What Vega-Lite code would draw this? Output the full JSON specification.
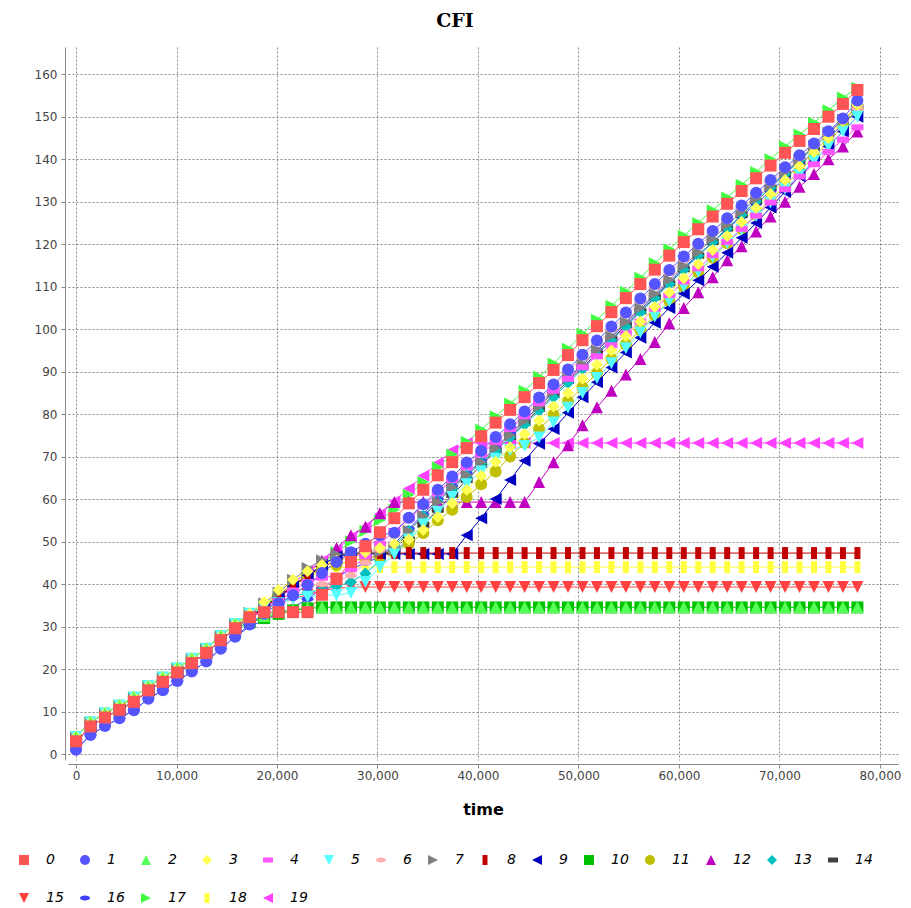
{
"$schema":"https://vega.github.io/schema/vega-lite/v6.json",
"width":830,"height":713,
"autosize":{"type":"none"},
"padding":{"left":68,"top":47,"right":13,"bottom":148},
"background":"white",
"title":{"text":"CFI","font":"DejaVu Serif","fontSize":19,"fontWeight":"bold","color":"#000","anchor":"middle","frame":"group","dx":-28,"offset":16},
"config":{"view":{"stroke":null},"legend":{"orient":"none","legendX":-51,"legendY":806,"direction":"horizontal","columns":15,"padding":0,"labelFont":"DejaVu Sans","labelFontStyle":"italic","labelFontSize":14,"labelColor":"#000","symbolSize":100,"symbolStrokeWidth":0,"labelOffset":15,"columnPadding":14,"rowPadding":24}},
"datasets":{"cfi":[
{"s":"19","t":0,"v":3},{"s":"19","t":1440,"v":6.5},{"s":"19","t":2880,"v":8.6},{"s":"19","t":4320,"v":10.4},{"s":"19","t":5760,"v":12.3},{"s":"19","t":7200,"v":15},{"s":"19","t":8640,"v":17},{"s":"19","t":10080,"v":19.2},{"s":"19","t":11520,"v":21.4},{"s":"19","t":12960,"v":23.8},{"s":"19","t":14400,"v":26.8},{"s":"19","t":15840,"v":29.6},{"s":"19","t":17280,"v":32.5},{"s":"19","t":18720,"v":34.5},{"s":"19","t":20160,"v":37},{"s":"19","t":21600,"v":40},{"s":"19","t":23040,"v":43},{"s":"19","t":24480,"v":45.5},{"s":"19","t":25920,"v":48},{"s":"19","t":27360,"v":51},{"s":"19","t":28800,"v":53.5},{"s":"19","t":30240,"v":56.5},{"s":"19","t":31680,"v":59.5},{"s":"19","t":33120,"v":62.5},{"s":"19","t":34560,"v":65.5},{"s":"19","t":36000,"v":68.5},{"s":"19","t":37440,"v":71.5},{"s":"19","t":38880,"v":73.2},{"s":"19","t":40320,"v":73.2},{"s":"19","t":41760,"v":73.2},{"s":"19","t":43200,"v":73.2},{"s":"19","t":44640,"v":73.2},{"s":"19","t":46080,"v":73.2},{"s":"19","t":47520,"v":73.2},{"s":"19","t":48960,"v":73.2},{"s":"19","t":50400,"v":73.2},{"s":"19","t":51840,"v":73.2},{"s":"19","t":53280,"v":73.2},{"s":"19","t":54720,"v":73.2},{"s":"19","t":56160,"v":73.2},{"s":"19","t":57600,"v":73.2},{"s":"19","t":59040,"v":73.2},{"s":"19","t":60480,"v":73.2},{"s":"19","t":61920,"v":73.2},{"s":"19","t":63360,"v":73.2},{"s":"19","t":64800,"v":73.2},{"s":"19","t":66240,"v":73.2},{"s":"19","t":67680,"v":73.2},{"s":"19","t":69120,"v":73.2},{"s":"19","t":70560,"v":73.2},{"s":"19","t":72000,"v":73.2},{"s":"19","t":73440,"v":73.2},{"s":"19","t":74880,"v":73.2},{"s":"19","t":76320,"v":73.2},{"s":"19","t":77760,"v":73.2},
{"s":"18","t":0,"v":4},{"s":"18","t":1440,"v":7.5},{"s":"18","t":2880,"v":9.6},{"s":"18","t":4320,"v":11.4},{"s":"18","t":5760,"v":13.3},{"s":"18","t":7200,"v":16},{"s":"18","t":8640,"v":18},{"s":"18","t":10080,"v":20.2},{"s":"18","t":11520,"v":22.4},{"s":"18","t":12960,"v":24.8},{"s":"18","t":14400,"v":27.8},{"s":"18","t":15840,"v":30.6},{"s":"18","t":17280,"v":33},{"s":"18","t":18720,"v":34.5},{"s":"18","t":20160,"v":37},{"s":"18","t":21600,"v":39.5},{"s":"18","t":23040,"v":41.5},{"s":"18","t":24480,"v":43},{"s":"18","t":25920,"v":43.8},{"s":"18","t":27360,"v":44},{"s":"18","t":28800,"v":44},{"s":"18","t":30240,"v":44},{"s":"18","t":31680,"v":44},{"s":"18","t":33120,"v":44},{"s":"18","t":34560,"v":44},{"s":"18","t":36000,"v":44},{"s":"18","t":37440,"v":44},{"s":"18","t":38880,"v":44},{"s":"18","t":40320,"v":44},{"s":"18","t":41760,"v":44},{"s":"18","t":43200,"v":44},{"s":"18","t":44640,"v":44},{"s":"18","t":46080,"v":44},{"s":"18","t":47520,"v":44},{"s":"18","t":48960,"v":44},{"s":"18","t":50400,"v":44},{"s":"18","t":51840,"v":44},{"s":"18","t":53280,"v":44},{"s":"18","t":54720,"v":44},{"s":"18","t":56160,"v":44},{"s":"18","t":57600,"v":44},{"s":"18","t":59040,"v":44},{"s":"18","t":60480,"v":44},{"s":"18","t":61920,"v":44},{"s":"18","t":63360,"v":44},{"s":"18","t":64800,"v":44},{"s":"18","t":66240,"v":44},{"s":"18","t":67680,"v":44},{"s":"18","t":69120,"v":44},{"s":"18","t":70560,"v":44},{"s":"18","t":72000,"v":44},{"s":"18","t":73440,"v":44},{"s":"18","t":74880,"v":44},{"s":"18","t":76320,"v":44},{"s":"18","t":77760,"v":44},
{"s":"17","t":0,"v":4},{"s":"17","t":1440,"v":7.5},{"s":"17","t":2880,"v":9.6},{"s":"17","t":4320,"v":11.4},{"s":"17","t":5760,"v":13.3},{"s":"17","t":7200,"v":16},{"s":"17","t":8640,"v":18},{"s":"17","t":10080,"v":20.2},{"s":"17","t":11520,"v":22.4},{"s":"17","t":12960,"v":24.8},{"s":"17","t":14400,"v":27.8},{"s":"17","t":15840,"v":30.6},{"s":"17","t":17280,"v":33.2},{"s":"17","t":18720,"v":35},{"s":"17","t":20160,"v":37},{"s":"17","t":21600,"v":39.5},{"s":"17","t":23040,"v":42},{"s":"17","t":24480,"v":44.5},{"s":"17","t":25920,"v":47.5},{"s":"17","t":27360,"v":50},{"s":"17","t":28800,"v":52.5},{"s":"17","t":30240,"v":55},{"s":"17","t":31680,"v":57.5},{"s":"17","t":33120,"v":61},{"s":"17","t":34560,"v":64},{"s":"17","t":36000,"v":67.5},{"s":"17","t":37440,"v":70.5},{"s":"17","t":38880,"v":73.5},{"s":"17","t":40320,"v":76.3},{"s":"17","t":41760,"v":79.5},{"s":"17","t":43200,"v":82.5},{"s":"17","t":44640,"v":85.5},{"s":"17","t":46080,"v":88.8},{"s":"17","t":47520,"v":91.9},{"s":"17","t":48960,"v":95.4},{"s":"17","t":50400,"v":98.9},{"s":"17","t":51840,"v":102.2},{"s":"17","t":53280,"v":105.5},{"s":"17","t":54720,"v":108.8},{"s":"17","t":56160,"v":112.1},{"s":"17","t":57600,"v":115.5},{"s":"17","t":59040,"v":118.8},{"s":"17","t":60480,"v":122},{"s":"17","t":61920,"v":125},{"s":"17","t":63360,"v":128},{"s":"17","t":64800,"v":131},{"s":"17","t":66240,"v":134},{"s":"17","t":67680,"v":137},{"s":"17","t":69120,"v":140},{"s":"17","t":70560,"v":143},{"s":"17","t":72000,"v":145.8},{"s":"17","t":73440,"v":148.6},{"s":"17","t":74880,"v":151.5},{"s":"17","t":76320,"v":154.5},{"s":"17","t":77760,"v":156.8},
{"s":"16","t":0,"v":1},{"s":"16","t":1440,"v":4.5},{"s":"16","t":2880,"v":6.6},{"s":"16","t":4320,"v":8.4},{"s":"16","t":5760,"v":10.3},{"s":"16","t":7200,"v":13},{"s":"16","t":8640,"v":15},{"s":"16","t":10080,"v":17.2},{"s":"16","t":11520,"v":19.4},{"s":"16","t":12960,"v":21.8},{"s":"16","t":14400,"v":24.8},{"s":"16","t":15840,"v":27.6},{"s":"16","t":17280,"v":30},{"s":"16","t":18720,"v":31.5},{"s":"16","t":20160,"v":33},{"s":"16","t":21600,"v":34.5},{"s":"16","t":23040,"v":36.5},{"s":"16","t":24480,"v":39},{"s":"16","t":25920,"v":41.5},{"s":"16","t":27360,"v":43.5},{"s":"16","t":28800,"v":45},{"s":"16","t":30240,"v":46.4},{"s":"16","t":31680,"v":49.5},{"s":"16","t":33120,"v":53},{"s":"16","t":34560,"v":56.5},{"s":"16","t":36000,"v":60},{"s":"16","t":37440,"v":63},{"s":"16","t":38880,"v":66},{"s":"16","t":40320,"v":69},{"s":"16","t":41760,"v":72},{"s":"16","t":43200,"v":75.5},{"s":"16","t":44640,"v":78.5},{"s":"16","t":46080,"v":82},{"s":"16","t":47520,"v":85},{"s":"16","t":48960,"v":88.5},{"s":"16","t":50400,"v":91.5},{"s":"16","t":51840,"v":95},{"s":"16","t":53280,"v":98},{"s":"16","t":54720,"v":101.5},{"s":"16","t":56160,"v":104.5},{"s":"16","t":57600,"v":108},{"s":"16","t":59040,"v":111},{"s":"16","t":60480,"v":114.5},{"s":"16","t":61920,"v":117.5},{"s":"16","t":63360,"v":120.5},{"s":"16","t":64800,"v":123.5},{"s":"16","t":66240,"v":126.5},{"s":"16","t":67680,"v":129.5},{"s":"16","t":69120,"v":132.5},{"s":"16","t":70560,"v":135.5},{"s":"16","t":72000,"v":138.7},{"s":"16","t":73440,"v":141.8},{"s":"16","t":74880,"v":145},{"s":"16","t":76320,"v":148.2},{"s":"16","t":77760,"v":151.3},
{"s":"15","t":0,"v":3},{"s":"15","t":1440,"v":6.5},{"s":"15","t":2880,"v":8.6},{"s":"15","t":4320,"v":10.4},{"s":"15","t":5760,"v":12.3},{"s":"15","t":7200,"v":15},{"s":"15","t":8640,"v":17},{"s":"15","t":10080,"v":19.2},{"s":"15","t":11520,"v":21.4},{"s":"15","t":12960,"v":23.8},{"s":"15","t":14400,"v":26.8},{"s":"15","t":15840,"v":29.6},{"s":"15","t":17280,"v":32},{"s":"15","t":18720,"v":34},{"s":"15","t":20160,"v":35.5},{"s":"15","t":21600,"v":36.5},{"s":"15","t":23040,"v":37.5},{"s":"15","t":24480,"v":38.5},{"s":"15","t":25920,"v":39},{"s":"15","t":27360,"v":39.3},{"s":"15","t":28800,"v":39.3},{"s":"15","t":30240,"v":39.3},{"s":"15","t":31680,"v":39.3},{"s":"15","t":33120,"v":39.3},{"s":"15","t":34560,"v":39.3},{"s":"15","t":36000,"v":39.3},{"s":"15","t":37440,"v":39.3},{"s":"15","t":38880,"v":39.3},{"s":"15","t":40320,"v":39.3},{"s":"15","t":41760,"v":39.3},{"s":"15","t":43200,"v":39.3},{"s":"15","t":44640,"v":39.3},{"s":"15","t":46080,"v":39.3},{"s":"15","t":47520,"v":39.3},{"s":"15","t":48960,"v":39.3},{"s":"15","t":50400,"v":39.3},{"s":"15","t":51840,"v":39.3},{"s":"15","t":53280,"v":39.3},{"s":"15","t":54720,"v":39.3},{"s":"15","t":56160,"v":39.3},{"s":"15","t":57600,"v":39.3},{"s":"15","t":59040,"v":39.3},{"s":"15","t":60480,"v":39.3},{"s":"15","t":61920,"v":39.3},{"s":"15","t":63360,"v":39.3},{"s":"15","t":64800,"v":39.3},{"s":"15","t":66240,"v":39.3},{"s":"15","t":67680,"v":39.3},{"s":"15","t":69120,"v":39.3},{"s":"15","t":70560,"v":39.3},{"s":"15","t":72000,"v":39.3},{"s":"15","t":73440,"v":39.3},{"s":"15","t":74880,"v":39.3},{"s":"15","t":76320,"v":39.3},{"s":"15","t":77760,"v":39.3},
{"s":"14","t":0,"v":3},{"s":"14","t":1440,"v":6.5},{"s":"14","t":2880,"v":8.6},{"s":"14","t":4320,"v":10.4},{"s":"14","t":5760,"v":12.3},{"s":"14","t":7200,"v":15},{"s":"14","t":8640,"v":17},{"s":"14","t":10080,"v":19.2},{"s":"14","t":11520,"v":21.4},{"s":"14","t":12960,"v":23.8},{"s":"14","t":14400,"v":26.8},{"s":"14","t":15840,"v":29.6},{"s":"14","t":17280,"v":32.2},{"s":"14","t":18720,"v":34.5},{"s":"14","t":20160,"v":37},{"s":"14","t":21600,"v":39.5},{"s":"14","t":23040,"v":42},{"s":"14","t":24480,"v":44.5},{"s":"14","t":25920,"v":46.5},{"s":"14","t":27360,"v":47.3},{"s":"14","t":28800,"v":47.3},{"s":"14","t":30240,"v":47.3},{"s":"14","t":31680,"v":47.5},{"s":"14","t":33120,"v":50.5},{"s":"14","t":34560,"v":54},{"s":"14","t":36000,"v":57.5},{"s":"14","t":37440,"v":61},{"s":"14","t":38880,"v":64.5},{"s":"14","t":40320,"v":68},{"s":"14","t":41760,"v":71.3},{"s":"14","t":43200,"v":74.6},{"s":"14","t":44640,"v":77.9},{"s":"14","t":46080,"v":81.2},{"s":"14","t":47520,"v":84.5},{"s":"14","t":48960,"v":87.8},{"s":"14","t":50400,"v":91},{"s":"14","t":51840,"v":94.3},{"s":"14","t":53280,"v":97.6},{"s":"14","t":54720,"v":100.9},{"s":"14","t":56160,"v":104.2},{"s":"14","t":57600,"v":107.5},{"s":"14","t":59040,"v":110.8},{"s":"14","t":60480,"v":114.1},{"s":"14","t":61920,"v":117.3},{"s":"14","t":63360,"v":120.5},{"s":"14","t":64800,"v":123.7},{"s":"14","t":66240,"v":126.9},{"s":"14","t":67680,"v":130.1},{"s":"14","t":69120,"v":133.3},{"s":"14","t":70560,"v":136.5},{"s":"14","t":72000,"v":139.7},{"s":"14","t":73440,"v":142.9},{"s":"14","t":74880,"v":146.1},{"s":"14","t":76320,"v":149.2},{"s":"14","t":77760,"v":152.3},
{"s":"13","t":0,"v":4},{"s":"13","t":1440,"v":7.5},{"s":"13","t":2880,"v":9.6},{"s":"13","t":4320,"v":11.4},{"s":"13","t":5760,"v":13.3},{"s":"13","t":7200,"v":16},{"s":"13","t":8640,"v":18},{"s":"13","t":10080,"v":20.2},{"s":"13","t":11520,"v":22.4},{"s":"13","t":12960,"v":24.8},{"s":"13","t":14400,"v":27.8},{"s":"13","t":15840,"v":30.6},{"s":"13","t":17280,"v":32.8},{"s":"13","t":18720,"v":34},{"s":"13","t":20160,"v":35.5},{"s":"13","t":21600,"v":37},{"s":"13","t":23040,"v":38},{"s":"13","t":24480,"v":38.7},{"s":"13","t":25920,"v":39.5},{"s":"13","t":27360,"v":40.5},{"s":"13","t":28800,"v":42.5},{"s":"13","t":30240,"v":45.5},{"s":"13","t":31680,"v":49},{"s":"13","t":33120,"v":52.5},{"s":"13","t":34560,"v":56},{"s":"13","t":36000,"v":59.5},{"s":"13","t":37440,"v":62.5},{"s":"13","t":38880,"v":65.5},{"s":"13","t":40320,"v":68.5},{"s":"13","t":41760,"v":71.5},{"s":"13","t":43200,"v":74.5},{"s":"13","t":44640,"v":77.5},{"s":"13","t":46080,"v":80.8},{"s":"13","t":47520,"v":84},{"s":"13","t":48960,"v":87.3},{"s":"13","t":50400,"v":90.6},{"s":"13","t":51840,"v":94},{"s":"13","t":53280,"v":97.3},{"s":"13","t":54720,"v":100.6},{"s":"13","t":56160,"v":104},{"s":"13","t":57600,"v":107.3},{"s":"13","t":59040,"v":110.6},{"s":"13","t":60480,"v":114},{"s":"13","t":61920,"v":117.3},{"s":"13","t":63360,"v":120.5},{"s":"13","t":64800,"v":123.7},{"s":"13","t":66240,"v":126.9},{"s":"13","t":67680,"v":130.1},{"s":"13","t":69120,"v":133.3},{"s":"13","t":70560,"v":136.5},{"s":"13","t":72000,"v":139.7},{"s":"13","t":73440,"v":142.9},{"s":"13","t":74880,"v":146},{"s":"13","t":76320,"v":149},{"s":"13","t":77760,"v":151},
{"s":"12","t":0,"v":3},{"s":"12","t":1440,"v":6.5},{"s":"12","t":2880,"v":8.6},{"s":"12","t":4320,"v":10.4},{"s":"12","t":5760,"v":12.3},{"s":"12","t":7200,"v":15},{"s":"12","t":8640,"v":17},{"s":"12","t":10080,"v":19.2},{"s":"12","t":11520,"v":21.4},{"s":"12","t":12960,"v":23.8},{"s":"12","t":14400,"v":26.8},{"s":"12","t":15840,"v":29.6},{"s":"12","t":17280,"v":32.5},{"s":"12","t":18720,"v":34},{"s":"12","t":20160,"v":36.5},{"s":"12","t":21600,"v":39.5},{"s":"12","t":23040,"v":42.5},{"s":"12","t":24480,"v":45.5},{"s":"12","t":25920,"v":48.5},{"s":"12","t":27360,"v":51.5},{"s":"12","t":28800,"v":53.5},{"s":"12","t":30240,"v":56.7},{"s":"12","t":31680,"v":59.3},{"s":"12","t":33120,"v":59.3},{"s":"12","t":34560,"v":59.3},{"s":"12","t":36000,"v":59.3},{"s":"12","t":37440,"v":59.3},{"s":"12","t":38880,"v":59.3},{"s":"12","t":40320,"v":59.3},{"s":"12","t":41760,"v":59.3},{"s":"12","t":43200,"v":59.3},{"s":"12","t":44640,"v":59.3},{"s":"12","t":46080,"v":64},{"s":"12","t":47520,"v":68.7},{"s":"12","t":48960,"v":72.7},{"s":"12","t":50400,"v":77.4},{"s":"12","t":51840,"v":81.6},{"s":"12","t":53280,"v":85.5},{"s":"12","t":54720,"v":89.3},{"s":"12","t":56160,"v":93},{"s":"12","t":57600,"v":97},{"s":"12","t":59040,"v":101.4},{"s":"12","t":60480,"v":105},{"s":"12","t":61920,"v":108.7},{"s":"12","t":63360,"v":112.2},{"s":"12","t":64800,"v":116.2},{"s":"12","t":66240,"v":119.5},{"s":"12","t":67680,"v":123},{"s":"12","t":69120,"v":126.5},{"s":"12","t":70560,"v":130},{"s":"12","t":72000,"v":133.5},{"s":"12","t":73440,"v":136.5},{"s":"12","t":74880,"v":140},{"s":"12","t":76320,"v":143},{"s":"12","t":77760,"v":146.5},
{"s":"11","t":0,"v":4},{"s":"11","t":1440,"v":7.5},{"s":"11","t":2880,"v":9.6},{"s":"11","t":4320,"v":11.4},{"s":"11","t":5760,"v":13.3},{"s":"11","t":7200,"v":16},{"s":"11","t":8640,"v":18},{"s":"11","t":10080,"v":20.2},{"s":"11","t":11520,"v":22.4},{"s":"11","t":12960,"v":24.8},{"s":"11","t":14400,"v":27.8},{"s":"11","t":15840,"v":30.6},{"s":"11","t":17280,"v":32.5},{"s":"11","t":18720,"v":35},{"s":"11","t":20160,"v":37.5},{"s":"11","t":21600,"v":40},{"s":"11","t":23040,"v":42},{"s":"11","t":24480,"v":43.5},{"s":"11","t":25920,"v":44.5},{"s":"11","t":27360,"v":45.5},{"s":"11","t":28800,"v":46},{"s":"11","t":30240,"v":46.5},{"s":"11","t":31680,"v":47.5},{"s":"11","t":33120,"v":49.5},{"s":"11","t":34560,"v":52},{"s":"11","t":36000,"v":55},{"s":"11","t":37440,"v":57.5},{"s":"11","t":38880,"v":60.5},{"s":"11","t":40320,"v":63.5},{"s":"11","t":41760,"v":66.5},{"s":"11","t":43200,"v":70},{"s":"11","t":44640,"v":73.2},{"s":"11","t":46080,"v":76.5},{"s":"11","t":47520,"v":79.8},{"s":"11","t":48960,"v":83},{"s":"11","t":50400,"v":86.3},{"s":"11","t":51840,"v":89.6},{"s":"11","t":53280,"v":93},{"s":"11","t":54720,"v":96.4},{"s":"11","t":56160,"v":99.8},{"s":"11","t":57600,"v":103.2},{"s":"11","t":59040,"v":106.6},{"s":"11","t":60480,"v":110},{"s":"11","t":61920,"v":113.4},{"s":"11","t":63360,"v":116.8},{"s":"11","t":64800,"v":120.2},{"s":"11","t":66240,"v":123.6},{"s":"11","t":67680,"v":127},{"s":"11","t":69120,"v":130.4},{"s":"11","t":70560,"v":133.8},{"s":"11","t":72000,"v":137.2},{"s":"11","t":73440,"v":140.6},{"s":"11","t":74880,"v":144},{"s":"11","t":76320,"v":147.8},{"s":"11","t":77760,"v":152},
{"s":"10","t":0,"v":3},{"s":"10","t":1440,"v":6.5},{"s":"10","t":2880,"v":8.6},{"s":"10","t":4320,"v":10.4},{"s":"10","t":5760,"v":12.3},{"s":"10","t":7200,"v":15},{"s":"10","t":8640,"v":17},{"s":"10","t":10080,"v":19.2},{"s":"10","t":11520,"v":21.4},{"s":"10","t":12960,"v":23.8},{"s":"10","t":14400,"v":26.8},{"s":"10","t":15840,"v":29.6},{"s":"10","t":17280,"v":31},{"s":"10","t":18720,"v":32},{"s":"10","t":20160,"v":33},{"s":"10","t":21600,"v":33.8},{"s":"10","t":23040,"v":34.3},{"s":"10","t":24480,"v":34.5},{"s":"10","t":25920,"v":34.5},{"s":"10","t":27360,"v":34.5},{"s":"10","t":28800,"v":34.5},{"s":"10","t":30240,"v":34.5},{"s":"10","t":31680,"v":34.5},{"s":"10","t":33120,"v":34.5},{"s":"10","t":34560,"v":34.5},{"s":"10","t":36000,"v":34.5},{"s":"10","t":37440,"v":34.5},{"s":"10","t":38880,"v":34.5},{"s":"10","t":40320,"v":34.5},{"s":"10","t":41760,"v":34.5},{"s":"10","t":43200,"v":34.5},{"s":"10","t":44640,"v":34.5},{"s":"10","t":46080,"v":34.5},{"s":"10","t":47520,"v":34.5},{"s":"10","t":48960,"v":34.5},{"s":"10","t":50400,"v":34.5},{"s":"10","t":51840,"v":34.5},{"s":"10","t":53280,"v":34.5},{"s":"10","t":54720,"v":34.5},{"s":"10","t":56160,"v":34.5},{"s":"10","t":57600,"v":34.5},{"s":"10","t":59040,"v":34.5},{"s":"10","t":60480,"v":34.5},{"s":"10","t":61920,"v":34.5},{"s":"10","t":63360,"v":34.5},{"s":"10","t":64800,"v":34.5},{"s":"10","t":66240,"v":34.5},{"s":"10","t":67680,"v":34.5},{"s":"10","t":69120,"v":34.5},{"s":"10","t":70560,"v":34.5},{"s":"10","t":72000,"v":34.5},{"s":"10","t":73440,"v":34.5},{"s":"10","t":74880,"v":34.5},{"s":"10","t":76320,"v":34.5},{"s":"10","t":77760,"v":34.5},
{"s":"9","t":0,"v":3},{"s":"9","t":1440,"v":6.5},{"s":"9","t":2880,"v":8.6},{"s":"9","t":4320,"v":10.4},{"s":"9","t":5760,"v":12.3},{"s":"9","t":7200,"v":15},{"s":"9","t":8640,"v":17},{"s":"9","t":10080,"v":19.2},{"s":"9","t":11520,"v":21.4},{"s":"9","t":12960,"v":23.8},{"s":"9","t":14400,"v":26.8},{"s":"9","t":15840,"v":29.6},{"s":"9","t":17280,"v":32.2},{"s":"9","t":18720,"v":34.5},{"s":"9","t":20160,"v":37},{"s":"9","t":21600,"v":39.5},{"s":"9","t":23040,"v":42},{"s":"9","t":24480,"v":44.5},{"s":"9","t":25920,"v":46.5},{"s":"9","t":27360,"v":47.1},{"s":"9","t":28800,"v":47.1},{"s":"9","t":30240,"v":47.1},{"s":"9","t":31680,"v":47.1},{"s":"9","t":33120,"v":47.1},{"s":"9","t":34560,"v":47.1},{"s":"9","t":36000,"v":47.1},{"s":"9","t":37440,"v":47.1},{"s":"9","t":38880,"v":51.5},{"s":"9","t":40320,"v":55.5},{"s":"9","t":41760,"v":60},{"s":"9","t":43200,"v":64.5},{"s":"9","t":44640,"v":69},{"s":"9","t":46080,"v":73},{"s":"9","t":47520,"v":76.5},{"s":"9","t":48960,"v":80.3},{"s":"9","t":50400,"v":84},{"s":"9","t":51840,"v":87.5},{"s":"9","t":53280,"v":91},{"s":"9","t":54720,"v":94.5},{"s":"9","t":56160,"v":98},{"s":"9","t":57600,"v":101.5},{"s":"9","t":59040,"v":105},{"s":"9","t":60480,"v":108.3},{"s":"9","t":61920,"v":111.5},{"s":"9","t":63360,"v":114.7},{"s":"9","t":64800,"v":118},{"s":"9","t":66240,"v":121.5},{"s":"9","t":67680,"v":125},{"s":"9","t":69120,"v":128.6},{"s":"9","t":70560,"v":132.3},{"s":"9","t":72000,"v":136},{"s":"9","t":73440,"v":139.5},{"s":"9","t":74880,"v":143},{"s":"9","t":76320,"v":146.5},{"s":"9","t":77760,"v":150},
{"s":"8","t":0,"v":3},{"s":"8","t":1440,"v":6.5},{"s":"8","t":2880,"v":8.6},{"s":"8","t":4320,"v":10.4},{"s":"8","t":5760,"v":12.3},{"s":"8","t":7200,"v":15},{"s":"8","t":8640,"v":17},{"s":"8","t":10080,"v":19.2},{"s":"8","t":11520,"v":21.4},{"s":"8","t":12960,"v":23.8},{"s":"8","t":14400,"v":26.8},{"s":"8","t":15840,"v":29.6},{"s":"8","t":17280,"v":32.2},{"s":"8","t":18720,"v":34.5},{"s":"8","t":20160,"v":37},{"s":"8","t":21600,"v":39.5},{"s":"8","t":23040,"v":42},{"s":"8","t":24480,"v":44},{"s":"8","t":25920,"v":45.5},{"s":"8","t":27360,"v":46.5},{"s":"8","t":28800,"v":47.3},{"s":"8","t":30240,"v":47.3},{"s":"8","t":31680,"v":47.3},{"s":"8","t":33120,"v":47.3},{"s":"8","t":34560,"v":47.3},{"s":"8","t":36000,"v":47.3},{"s":"8","t":37440,"v":47.3},{"s":"8","t":38880,"v":47.3},{"s":"8","t":40320,"v":47.3},{"s":"8","t":41760,"v":47.3},{"s":"8","t":43200,"v":47.3},{"s":"8","t":44640,"v":47.3},{"s":"8","t":46080,"v":47.3},{"s":"8","t":47520,"v":47.3},{"s":"8","t":48960,"v":47.3},{"s":"8","t":50400,"v":47.3},{"s":"8","t":51840,"v":47.3},{"s":"8","t":53280,"v":47.3},{"s":"8","t":54720,"v":47.3},{"s":"8","t":56160,"v":47.3},{"s":"8","t":57600,"v":47.3},{"s":"8","t":59040,"v":47.3},{"s":"8","t":60480,"v":47.3},{"s":"8","t":61920,"v":47.3},{"s":"8","t":63360,"v":47.3},{"s":"8","t":64800,"v":47.3},{"s":"8","t":66240,"v":47.3},{"s":"8","t":67680,"v":47.3},{"s":"8","t":69120,"v":47.3},{"s":"8","t":70560,"v":47.3},{"s":"8","t":72000,"v":47.3},{"s":"8","t":73440,"v":47.3},{"s":"8","t":74880,"v":47.3},{"s":"8","t":76320,"v":47.3},{"s":"8","t":77760,"v":47.3},
{"s":"7","t":0,"v":4},{"s":"7","t":1440,"v":7.5},{"s":"7","t":2880,"v":9.6},{"s":"7","t":4320,"v":11.4},{"s":"7","t":5760,"v":13.3},{"s":"7","t":7200,"v":16},{"s":"7","t":8640,"v":18},{"s":"7","t":10080,"v":20.2},{"s":"7","t":11520,"v":22.4},{"s":"7","t":12960,"v":24.8},{"s":"7","t":14400,"v":27.8},{"s":"7","t":15840,"v":30.6},{"s":"7","t":17280,"v":33.2},{"s":"7","t":18720,"v":35.5},{"s":"7","t":20160,"v":38},{"s":"7","t":21600,"v":41},{"s":"7","t":23040,"v":43.8},{"s":"7","t":24480,"v":45.6},{"s":"7","t":25920,"v":47},{"s":"7","t":27360,"v":47.5},{"s":"7","t":28800,"v":47.5},{"s":"7","t":30240,"v":47.5},{"s":"7","t":31680,"v":48},{"s":"7","t":33120,"v":52.5},{"s":"7","t":34560,"v":56},{"s":"7","t":36000,"v":59.3},{"s":"7","t":37440,"v":62.8},{"s":"7","t":38880,"v":65.7},{"s":"7","t":40320,"v":68.7},{"s":"7","t":41760,"v":72},{"s":"7","t":43200,"v":75},{"s":"7","t":44640,"v":78.4},{"s":"7","t":46080,"v":81.8},{"s":"7","t":47520,"v":85.2},{"s":"7","t":48960,"v":88.5},{"s":"7","t":50400,"v":91.8},{"s":"7","t":51840,"v":95.1},{"s":"7","t":53280,"v":98.4},{"s":"7","t":54720,"v":101.7},{"s":"7","t":56160,"v":105},{"s":"7","t":57600,"v":108.3},{"s":"7","t":59040,"v":111.6},{"s":"7","t":60480,"v":114.9},{"s":"7","t":61920,"v":118.1},{"s":"7","t":63360,"v":121.3},{"s":"7","t":64800,"v":124.5},{"s":"7","t":66240,"v":127.6},{"s":"7","t":67680,"v":130.7},{"s":"7","t":69120,"v":133.8},{"s":"7","t":70560,"v":136.9},{"s":"7","t":72000,"v":140},{"s":"7","t":73440,"v":143.1},{"s":"7","t":74880,"v":146.2},{"s":"7","t":76320,"v":149.3},{"s":"7","t":77760,"v":152.4},
{"s":"6","t":0,"v":3},{"s":"6","t":1440,"v":6.5},{"s":"6","t":2880,"v":8.6},{"s":"6","t":4320,"v":10.4},{"s":"6","t":5760,"v":12.3},{"s":"6","t":7200,"v":15},{"s":"6","t":8640,"v":17},{"s":"6","t":10080,"v":19.2},{"s":"6","t":11520,"v":21.4},{"s":"6","t":12960,"v":23.8},{"s":"6","t":14400,"v":26.8},{"s":"6","t":15840,"v":29.6},{"s":"6","t":17280,"v":32},{"s":"6","t":18720,"v":34},{"s":"6","t":20160,"v":36},{"s":"6","t":21600,"v":38},{"s":"6","t":23040,"v":39.5},{"s":"6","t":24480,"v":40},{"s":"6","t":25920,"v":40.5},{"s":"6","t":27360,"v":42},{"s":"6","t":28800,"v":45},{"s":"6","t":30240,"v":48},{"s":"6","t":31680,"v":51.5},{"s":"6","t":33120,"v":55},{"s":"6","t":34560,"v":58.3},{"s":"6","t":36000,"v":61.6},{"s":"6","t":37440,"v":64.8},{"s":"6","t":38880,"v":68},{"s":"6","t":40320,"v":71},{"s":"6","t":41760,"v":74},{"s":"6","t":43200,"v":77},{"s":"6","t":44640,"v":80},{"s":"6","t":46080,"v":83.3},{"s":"6","t":47520,"v":86.5},{"s":"6","t":48960,"v":89.9},{"s":"6","t":50400,"v":93.3},{"s":"6","t":51840,"v":96.6},{"s":"6","t":53280,"v":99.9},{"s":"6","t":54720,"v":103.2},{"s":"6","t":56160,"v":106.5},{"s":"6","t":57600,"v":109.9},{"s":"6","t":59040,"v":113.2},{"s":"6","t":60480,"v":116.4},{"s":"6","t":61920,"v":119.5},{"s":"6","t":63360,"v":122.5},{"s":"6","t":64800,"v":125.5},{"s":"6","t":66240,"v":128.5},{"s":"6","t":67680,"v":131.5},{"s":"6","t":69120,"v":134.5},{"s":"6","t":70560,"v":137.5},{"s":"6","t":72000,"v":140.3},{"s":"6","t":73440,"v":143.1},{"s":"6","t":74880,"v":146},{"s":"6","t":76320,"v":149},{"s":"6","t":77760,"v":152},
{"s":"5","t":0,"v":4},{"s":"5","t":1440,"v":7.5},{"s":"5","t":2880,"v":9.6},{"s":"5","t":4320,"v":11.4},{"s":"5","t":5760,"v":13.3},{"s":"5","t":7200,"v":16},{"s":"5","t":8640,"v":18},{"s":"5","t":10080,"v":20.2},{"s":"5","t":11520,"v":22.4},{"s":"5","t":12960,"v":24.8},{"s":"5","t":14400,"v":27.8},{"s":"5","t":15840,"v":30.6},{"s":"5","t":17280,"v":33},{"s":"5","t":18720,"v":34.5},{"s":"5","t":20160,"v":35.5},{"s":"5","t":21600,"v":36.5},{"s":"5","t":23040,"v":37},{"s":"5","t":24480,"v":37.4},{"s":"5","t":25920,"v":37.4},{"s":"5","t":27360,"v":37.9},{"s":"5","t":28800,"v":40.5},{"s":"5","t":30240,"v":44},{"s":"5","t":31680,"v":47},{"s":"5","t":33120,"v":50.5},{"s":"5","t":34560,"v":54},{"s":"5","t":36000,"v":57},{"s":"5","t":37440,"v":60.5},{"s":"5","t":38880,"v":63.5},{"s":"5","t":40320,"v":66.5},{"s":"5","t":41760,"v":69.5},{"s":"5","t":43200,"v":71.5},{"s":"5","t":44640,"v":72.5},{"s":"5","t":46080,"v":74.5},{"s":"5","t":47520,"v":78},{"s":"5","t":48960,"v":81.5},{"s":"5","t":50400,"v":85},{"s":"5","t":51840,"v":88.5},{"s":"5","t":53280,"v":92},{"s":"5","t":54720,"v":95.5},{"s":"5","t":56160,"v":99.2},{"s":"5","t":57600,"v":103},{"s":"5","t":59040,"v":106.5},{"s":"5","t":60480,"v":110},{"s":"5","t":61920,"v":113.5},{"s":"5","t":63360,"v":117},{"s":"5","t":64800,"v":120.2},{"s":"5","t":66240,"v":123.4},{"s":"5","t":67680,"v":126.6},{"s":"5","t":69120,"v":129.8},{"s":"5","t":70560,"v":133},{"s":"5","t":72000,"v":136.3},{"s":"5","t":73440,"v":139.6},{"s":"5","t":74880,"v":143},{"s":"5","t":76320,"v":146.5},{"s":"5","t":77760,"v":150},
{"s":"4","t":0,"v":3},{"s":"4","t":1440,"v":6.5},{"s":"4","t":2880,"v":8.6},{"s":"4","t":4320,"v":10.4},{"s":"4","t":5760,"v":12.3},{"s":"4","t":7200,"v":15},{"s":"4","t":8640,"v":17},{"s":"4","t":10080,"v":19.2},{"s":"4","t":11520,"v":21.4},{"s":"4","t":12960,"v":23.8},{"s":"4","t":14400,"v":26.8},{"s":"4","t":15840,"v":29.6},{"s":"4","t":17280,"v":32},{"s":"4","t":18720,"v":34},{"s":"4","t":20160,"v":36},{"s":"4","t":21600,"v":38.5},{"s":"4","t":23040,"v":40.5},{"s":"4","t":24480,"v":41.5},{"s":"4","t":25920,"v":42},{"s":"4","t":27360,"v":43.5},{"s":"4","t":28800,"v":46.5},{"s":"4","t":30240,"v":49.5},{"s":"4","t":31680,"v":52.5},{"s":"4","t":33120,"v":55.5},{"s":"4","t":34560,"v":58.5},{"s":"4","t":36000,"v":61.5},{"s":"4","t":37440,"v":64.5},{"s":"4","t":38880,"v":67.5},{"s":"4","t":40320,"v":70.5},{"s":"4","t":41760,"v":73.5},{"s":"4","t":43200,"v":76.5},{"s":"4","t":44640,"v":79.5},{"s":"4","t":46080,"v":82.6},{"s":"4","t":47520,"v":85.5},{"s":"4","t":48960,"v":88.3},{"s":"4","t":50400,"v":91},{"s":"4","t":51840,"v":93.6},{"s":"4","t":53280,"v":96.2},{"s":"4","t":54720,"v":99},{"s":"4","t":56160,"v":101.8},{"s":"4","t":57600,"v":104.8},{"s":"4","t":59040,"v":108},{"s":"4","t":60480,"v":111.2},{"s":"4","t":61920,"v":114.3},{"s":"4","t":63360,"v":117.4},{"s":"4","t":64800,"v":120.5},{"s":"4","t":66240,"v":123.6},{"s":"4","t":67680,"v":126.7},{"s":"4","t":69120,"v":129.8},{"s":"4","t":70560,"v":132.9},{"s":"4","t":72000,"v":135.9},{"s":"4","t":73440,"v":138.8},{"s":"4","t":74880,"v":141.7},{"s":"4","t":76320,"v":144.6},{"s":"4","t":77760,"v":147.5},
{"s":"3","t":0,"v":4},{"s":"3","t":1440,"v":7.5},{"s":"3","t":2880,"v":9.6},{"s":"3","t":4320,"v":11.4},{"s":"3","t":5760,"v":13.3},{"s":"3","t":7200,"v":16},{"s":"3","t":8640,"v":18},{"s":"3","t":10080,"v":20.2},{"s":"3","t":11520,"v":22.4},{"s":"3","t":12960,"v":24.8},{"s":"3","t":14400,"v":27.8},{"s":"3","t":15840,"v":30.6},{"s":"3","t":17280,"v":33},{"s":"3","t":18720,"v":35.8},{"s":"3","t":20160,"v":38.6},{"s":"3","t":21600,"v":41},{"s":"3","t":23040,"v":43},{"s":"3","t":24480,"v":44.5},{"s":"3","t":25920,"v":45.5},{"s":"3","t":27360,"v":46.5},{"s":"3","t":28800,"v":47.5},{"s":"3","t":30240,"v":48.5},{"s":"3","t":31680,"v":49.5},{"s":"3","t":33120,"v":50.5},{"s":"3","t":34560,"v":52.7},{"s":"3","t":36000,"v":55.8},{"s":"3","t":37440,"v":59},{"s":"3","t":38880,"v":62.2},{"s":"3","t":40320,"v":65.5},{"s":"3","t":41760,"v":68.8},{"s":"3","t":43200,"v":72.2},{"s":"3","t":44640,"v":75.3},{"s":"3","t":46080,"v":78.5},{"s":"3","t":47520,"v":81.8},{"s":"3","t":48960,"v":85},{"s":"3","t":50400,"v":88.3},{"s":"3","t":51840,"v":91.6},{"s":"3","t":53280,"v":95},{"s":"3","t":54720,"v":98.4},{"s":"3","t":56160,"v":101.8},{"s":"3","t":57600,"v":105.2},{"s":"3","t":59040,"v":108.6},{"s":"3","t":60480,"v":112},{"s":"3","t":61920,"v":115.3},{"s":"3","t":63360,"v":118.6},{"s":"3","t":64800,"v":121.9},{"s":"3","t":66240,"v":125.2},{"s":"3","t":67680,"v":128.5},{"s":"3","t":69120,"v":131.8},{"s":"3","t":70560,"v":135.1},{"s":"3","t":72000,"v":138.4},{"s":"3","t":73440,"v":141.7},{"s":"3","t":74880,"v":145},{"s":"3","t":76320,"v":149},{"s":"3","t":77760,"v":152.8},
{"s":"2","t":0,"v":4},{"s":"2","t":1440,"v":7.5},{"s":"2","t":2880,"v":9.6},{"s":"2","t":4320,"v":11.4},{"s":"2","t":5760,"v":13.3},{"s":"2","t":7200,"v":16},{"s":"2","t":8640,"v":18},{"s":"2","t":10080,"v":20.2},{"s":"2","t":11520,"v":22.4},{"s":"2","t":12960,"v":24.8},{"s":"2","t":14400,"v":27.8},{"s":"2","t":15840,"v":30.6},{"s":"2","t":17280,"v":31.5},{"s":"2","t":18720,"v":32.5},{"s":"2","t":20160,"v":33.5},{"s":"2","t":21600,"v":34},{"s":"2","t":23040,"v":34.5},{"s":"2","t":24480,"v":34.6},{"s":"2","t":25920,"v":34.6},{"s":"2","t":27360,"v":34.6},{"s":"2","t":28800,"v":34.6},{"s":"2","t":30240,"v":34.6},{"s":"2","t":31680,"v":34.6},{"s":"2","t":33120,"v":34.6},{"s":"2","t":34560,"v":34.6},{"s":"2","t":36000,"v":34.6},{"s":"2","t":37440,"v":34.6},{"s":"2","t":38880,"v":34.6},{"s":"2","t":40320,"v":34.6},{"s":"2","t":41760,"v":34.6},{"s":"2","t":43200,"v":34.6},{"s":"2","t":44640,"v":34.6},{"s":"2","t":46080,"v":34.6},{"s":"2","t":47520,"v":34.6},{"s":"2","t":48960,"v":34.6},{"s":"2","t":50400,"v":34.6},{"s":"2","t":51840,"v":34.6},{"s":"2","t":53280,"v":34.6},{"s":"2","t":54720,"v":34.6},{"s":"2","t":56160,"v":34.6},{"s":"2","t":57600,"v":34.6},{"s":"2","t":59040,"v":34.6},{"s":"2","t":60480,"v":34.6},{"s":"2","t":61920,"v":34.6},{"s":"2","t":63360,"v":34.6},{"s":"2","t":64800,"v":34.6},{"s":"2","t":66240,"v":34.6},{"s":"2","t":67680,"v":34.6},{"s":"2","t":69120,"v":34.6},{"s":"2","t":70560,"v":34.6},{"s":"2","t":72000,"v":34.6},{"s":"2","t":73440,"v":34.6},{"s":"2","t":74880,"v":34.6},{"s":"2","t":76320,"v":34.6},{"s":"2","t":77760,"v":34.6},
{"s":"1","t":0,"v":1},{"s":"1","t":1440,"v":4.5},{"s":"1","t":2880,"v":6.6},{"s":"1","t":4320,"v":8.4},{"s":"1","t":5760,"v":10.3},{"s":"1","t":7200,"v":13},{"s":"1","t":8640,"v":15},{"s":"1","t":10080,"v":17.2},{"s":"1","t":11520,"v":19.4},{"s":"1","t":12960,"v":21.8},{"s":"1","t":14400,"v":24.8},{"s":"1","t":15840,"v":27.6},{"s":"1","t":17280,"v":30.5},{"s":"1","t":18720,"v":33},{"s":"1","t":20160,"v":35.5},{"s":"1","t":21600,"v":37.4},{"s":"1","t":23040,"v":39.8},{"s":"1","t":24480,"v":42.6},{"s":"1","t":25920,"v":45.2},{"s":"1","t":27360,"v":47.5},{"s":"1","t":28800,"v":49.5},{"s":"1","t":30240,"v":51.5},{"s":"1","t":31680,"v":52.1},{"s":"1","t":33120,"v":55.6},{"s":"1","t":34560,"v":58.8},{"s":"1","t":36000,"v":62.2},{"s":"1","t":37440,"v":65.3},{"s":"1","t":38880,"v":68.6},{"s":"1","t":40320,"v":71.4},{"s":"1","t":41760,"v":74.6},{"s":"1","t":43200,"v":77.6},{"s":"1","t":44640,"v":80.6},{"s":"1","t":46080,"v":83.9},{"s":"1","t":47520,"v":87},{"s":"1","t":48960,"v":90.5},{"s":"1","t":50400,"v":94},{"s":"1","t":51840,"v":97.3},{"s":"1","t":53280,"v":100.6},{"s":"1","t":54720,"v":103.9},{"s":"1","t":56160,"v":107.2},{"s":"1","t":57600,"v":110.6},{"s":"1","t":59040,"v":113.9},{"s":"1","t":60480,"v":117.1},{"s":"1","t":61920,"v":120.1},{"s":"1","t":63360,"v":123.1},{"s":"1","t":64800,"v":126.1},{"s":"1","t":66240,"v":129.1},{"s":"1","t":67680,"v":132.1},{"s":"1","t":69120,"v":135.1},{"s":"1","t":70560,"v":138.1},{"s":"1","t":72000,"v":140.9},{"s":"1","t":73440,"v":143.7},{"s":"1","t":74880,"v":146.6},{"s":"1","t":76320,"v":149.6},{"s":"1","t":77760,"v":153.8},
{"s":"0","t":0,"v":3},{"s":"0","t":1440,"v":6.5},{"s":"0","t":2880,"v":8.6},{"s":"0","t":4320,"v":10.4},{"s":"0","t":5760,"v":12.3},{"s":"0","t":7200,"v":15},{"s":"0","t":8640,"v":17},{"s":"0","t":10080,"v":19.2},{"s":"0","t":11520,"v":21.4},{"s":"0","t":12960,"v":23.8},{"s":"0","t":14400,"v":26.8},{"s":"0","t":15840,"v":29.6},{"s":"0","t":17280,"v":32.2},{"s":"0","t":18720,"v":33.4},{"s":"0","t":20160,"v":33.4},{"s":"0","t":21600,"v":33.4},{"s":"0","t":23040,"v":33.4},{"s":"0","t":24480,"v":37.5},{"s":"0","t":25920,"v":41.2},{"s":"0","t":27360,"v":45.2},{"s":"0","t":28800,"v":48.9},{"s":"0","t":30240,"v":52.2},{"s":"0","t":31680,"v":55.5},{"s":"0","t":33120,"v":59},{"s":"0","t":34560,"v":62.2},{"s":"0","t":36000,"v":65.6},{"s":"0","t":37440,"v":68.7},{"s":"0","t":38880,"v":72},{"s":"0","t":40320,"v":74.8},{"s":"0","t":41760,"v":78},{"s":"0","t":43200,"v":81},{"s":"0","t":44640,"v":84},{"s":"0","t":46080,"v":87.3},{"s":"0","t":47520,"v":90.4},{"s":"0","t":48960,"v":93.9},{"s":"0","t":50400,"v":97.4},{"s":"0","t":51840,"v":100.7},{"s":"0","t":53280,"v":104},{"s":"0","t":54720,"v":107.3},{"s":"0","t":56160,"v":110.6},{"s":"0","t":57600,"v":114},{"s":"0","t":59040,"v":117.3},{"s":"0","t":60480,"v":120.5},{"s":"0","t":61920,"v":123.5},{"s":"0","t":63360,"v":126.5},{"s":"0","t":64800,"v":129.5},{"s":"0","t":66240,"v":132.5},{"s":"0","t":67680,"v":135.5},{"s":"0","t":69120,"v":138.5},{"s":"0","t":70560,"v":141.5},{"s":"0","t":72000,"v":144.3},{"s":"0","t":73440,"v":147.1},{"s":"0","t":74880,"v":150},{"s":"0","t":76320,"v":153},{"s":"0","t":77760,"v":156.3}
]},
"data":{"name":"cfi"},
"encoding":{
"x":{"field":"t","type":"quantitative","scale":{"domain":[-800,81800],"nice":false,"zero":false},
"axis":{"values":[0,10000,20000,30000,40000,50000,60000,70000,80000],"format":",d","title":"time","titleFont":"DejaVu Sans","titleFontSize":16,"titleFontWeight":"bold","titleColor":"#000","titlePadding":20,"labelFont":"DejaVu Sans","labelFontSize":12,"labelColor":"#444","labelPadding":2,"offset":4,"tickSize":4,"tickColor":"#888","domainColor":"#888","grid":true,"gridColor":"#888","gridDash":[2,2],"gridWidth":1,"labelFlush":false,"labelOverlap":false}},
"y":{"field":"v","type":"quantitative","scale":{"domain":[-1.4,166.4],"nice":false,"zero":false},
"axis":{"values":[0,10,20,30,40,50,60,70,80,90,100,110,120,130,140,150,160],"title":null,"labelFont":"DejaVu Sans","labelFontSize":12,"labelColor":"#444","labelPadding":4,"offset":3,"tickSize":4,"tickColor":"#888","domainColor":"#888","grid":true,"gridColor":"#888","gridDash":[2,2],"gridWidth":1,"labelOverlap":false}},
"color":{"field":"s","type":"nominal","title":null,
"scale":{"domain":["0","1","2","3","4","5","6","7","8","9","10","11","12","13","14","15","16","17","18","19"],
"range":["#FF5555","#5555FF","#55FF55","#FFFF55","#FF55FF","#55FFFF","#FFAFAF","#808080","#C00000","#0000C0","#00C000","#C0C000","#C000C0","#00C0C0","#404040","#FF4040","#4040FF","#40FF40","#FFFF40","#FF40FF"]},
"legend":{"columns":15,"direction":"horizontal","orient":"none","legendX":-51,"legendY":806}}
},
"layer":[
{"mark":{"type":"line","strokeWidth":1}},
{"mark":{"type":"point","filled":true,"size":144,"opacity":1,"strokeWidth":0},
"encoding":{
"shape":{"field":"s","type":"nominal","title":null,
"scale":{"domain":["0","1","2","3","4","5","6","7","8","9","10","11","12","13","14","15","16","17","18","19"],
"range":["M-1,-1H1V1H-1Z","circle","M0,-1L1,1H-1Z","M0,-1L1,0L0,1L-1,0Z","M-1,-0.5H1V0.5H-1Z","M-1,-1H1L0,1Z","M1,0A1,0.5 0 1,1 -1,0A1,0.5 0 1,1 1,0Z","M-1,-1L1,0L-1,1Z","M-0.5,-1H0.5V1H-0.5Z","M1,-1V1L-1,0Z","M-1,-1H1V1H-1Z","circle","M0,-1L1,1H-1Z","M0,-1L1,0L0,1L-1,0Z","M-1,-0.5H1V0.5H-1Z","M-1,-1H1L0,1Z","M1,0A1,0.5 0 1,1 -1,0A1,0.5 0 1,1 1,0Z","M-1,-1L1,0L-1,1Z","M-0.5,-1H0.5V1H-0.5Z","M1,-1V1L-1,0Z"]},
"legend":{"columns":15,"direction":"horizontal","orient":"none","legendX":-51,"legendY":806}}
}}
]
}
